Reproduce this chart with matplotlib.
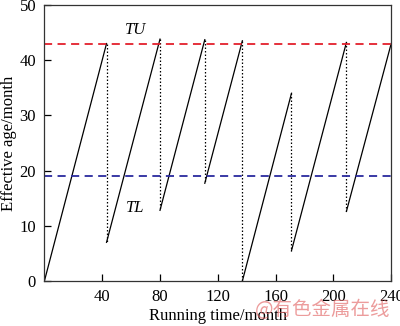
import matplotlib
matplotlib.use('Agg')
import matplotlib.pyplot as plt

# maintenance times and effective age just before / after each repair
repair_time = [43, 80, 111, 137, 171, 209]
age_before = [43, 43.8, 43.7, 43.5, 34, 43.2]
age_after = [7, 12.8, 17.7, 0, 5.5, 12.6]
start_time, start_age = 0, 0
end_time, end_age = 240, 43

TU = 43
TL = 19

xticks = [40, 80, 120, 160, 200, 240]
yticks = [0, 10, 20, 30, 40, 50]

plt.rcParams['font.family'] = ['Liberation Serif', 'DejaVu Serif']

fig = plt.figure(figsize=(4.0, 3.26), dpi=100)
ax = fig.add_axes([0.111, 0.138, 0.867, 0.847])

# rising segments (ageing) and dotted drops (repairs)
seg_t0 = [start_time] + repair_time
seg_a0 = [start_age] + age_after
seg_t1 = repair_time + [end_time]
seg_a1 = age_before + [end_age]
for t0, a0, t1, a1 in zip(seg_t0, seg_a0, seg_t1, seg_a1):
    ax.plot([t0, t1], [a0, a1], color='black', lw=0.9)
for t, hi, lo in zip(repair_time, age_before, age_after):
    ax.plot([t, t], [hi, lo], color='black', lw=0.9, linestyle=(0, (1.2, 1.6)))

ax.axhline(TU, color='#e3202c', lw=1.3, dashes=(4.5, 3))
ax.axhline(TL, color='#2a2a9e', lw=1.3, dashes=(4.5, 3))
ax.text(63, 45.5, 'TU', fontsize=12, style='italic', ha='center', va='center')
ax.text(63, 13.3, 'TL', fontsize=12, style='italic', ha='center', va='center')

ax.set_xlim(0, 240)
ax.set_ylim(0, 50)
ax.set_xticks(xticks)
ax.set_yticks(yticks)
ax.tick_params(direction='in', length=5, width=0.9, labelsize=12, pad=6,
               top=False, right=False)
for s in ax.spines.values():
    s.set_linewidth(0.9)
    s.set_color('#333333')
ax.set_xlabel('Running time/month', fontsize=12, labelpad=2)
ax.set_ylabel('Effective age/month', fontsize=12, labelpad=2)

fig.text(0.975, 0.018, '@有色金属在线', fontsize=14, color='#e05a5a', alpha=0.6,
         ha='right', va='bottom', family=['Noto Sans CJK SC', 'DejaVu Sans'])

fig.savefig('out.png', dpi=100)
